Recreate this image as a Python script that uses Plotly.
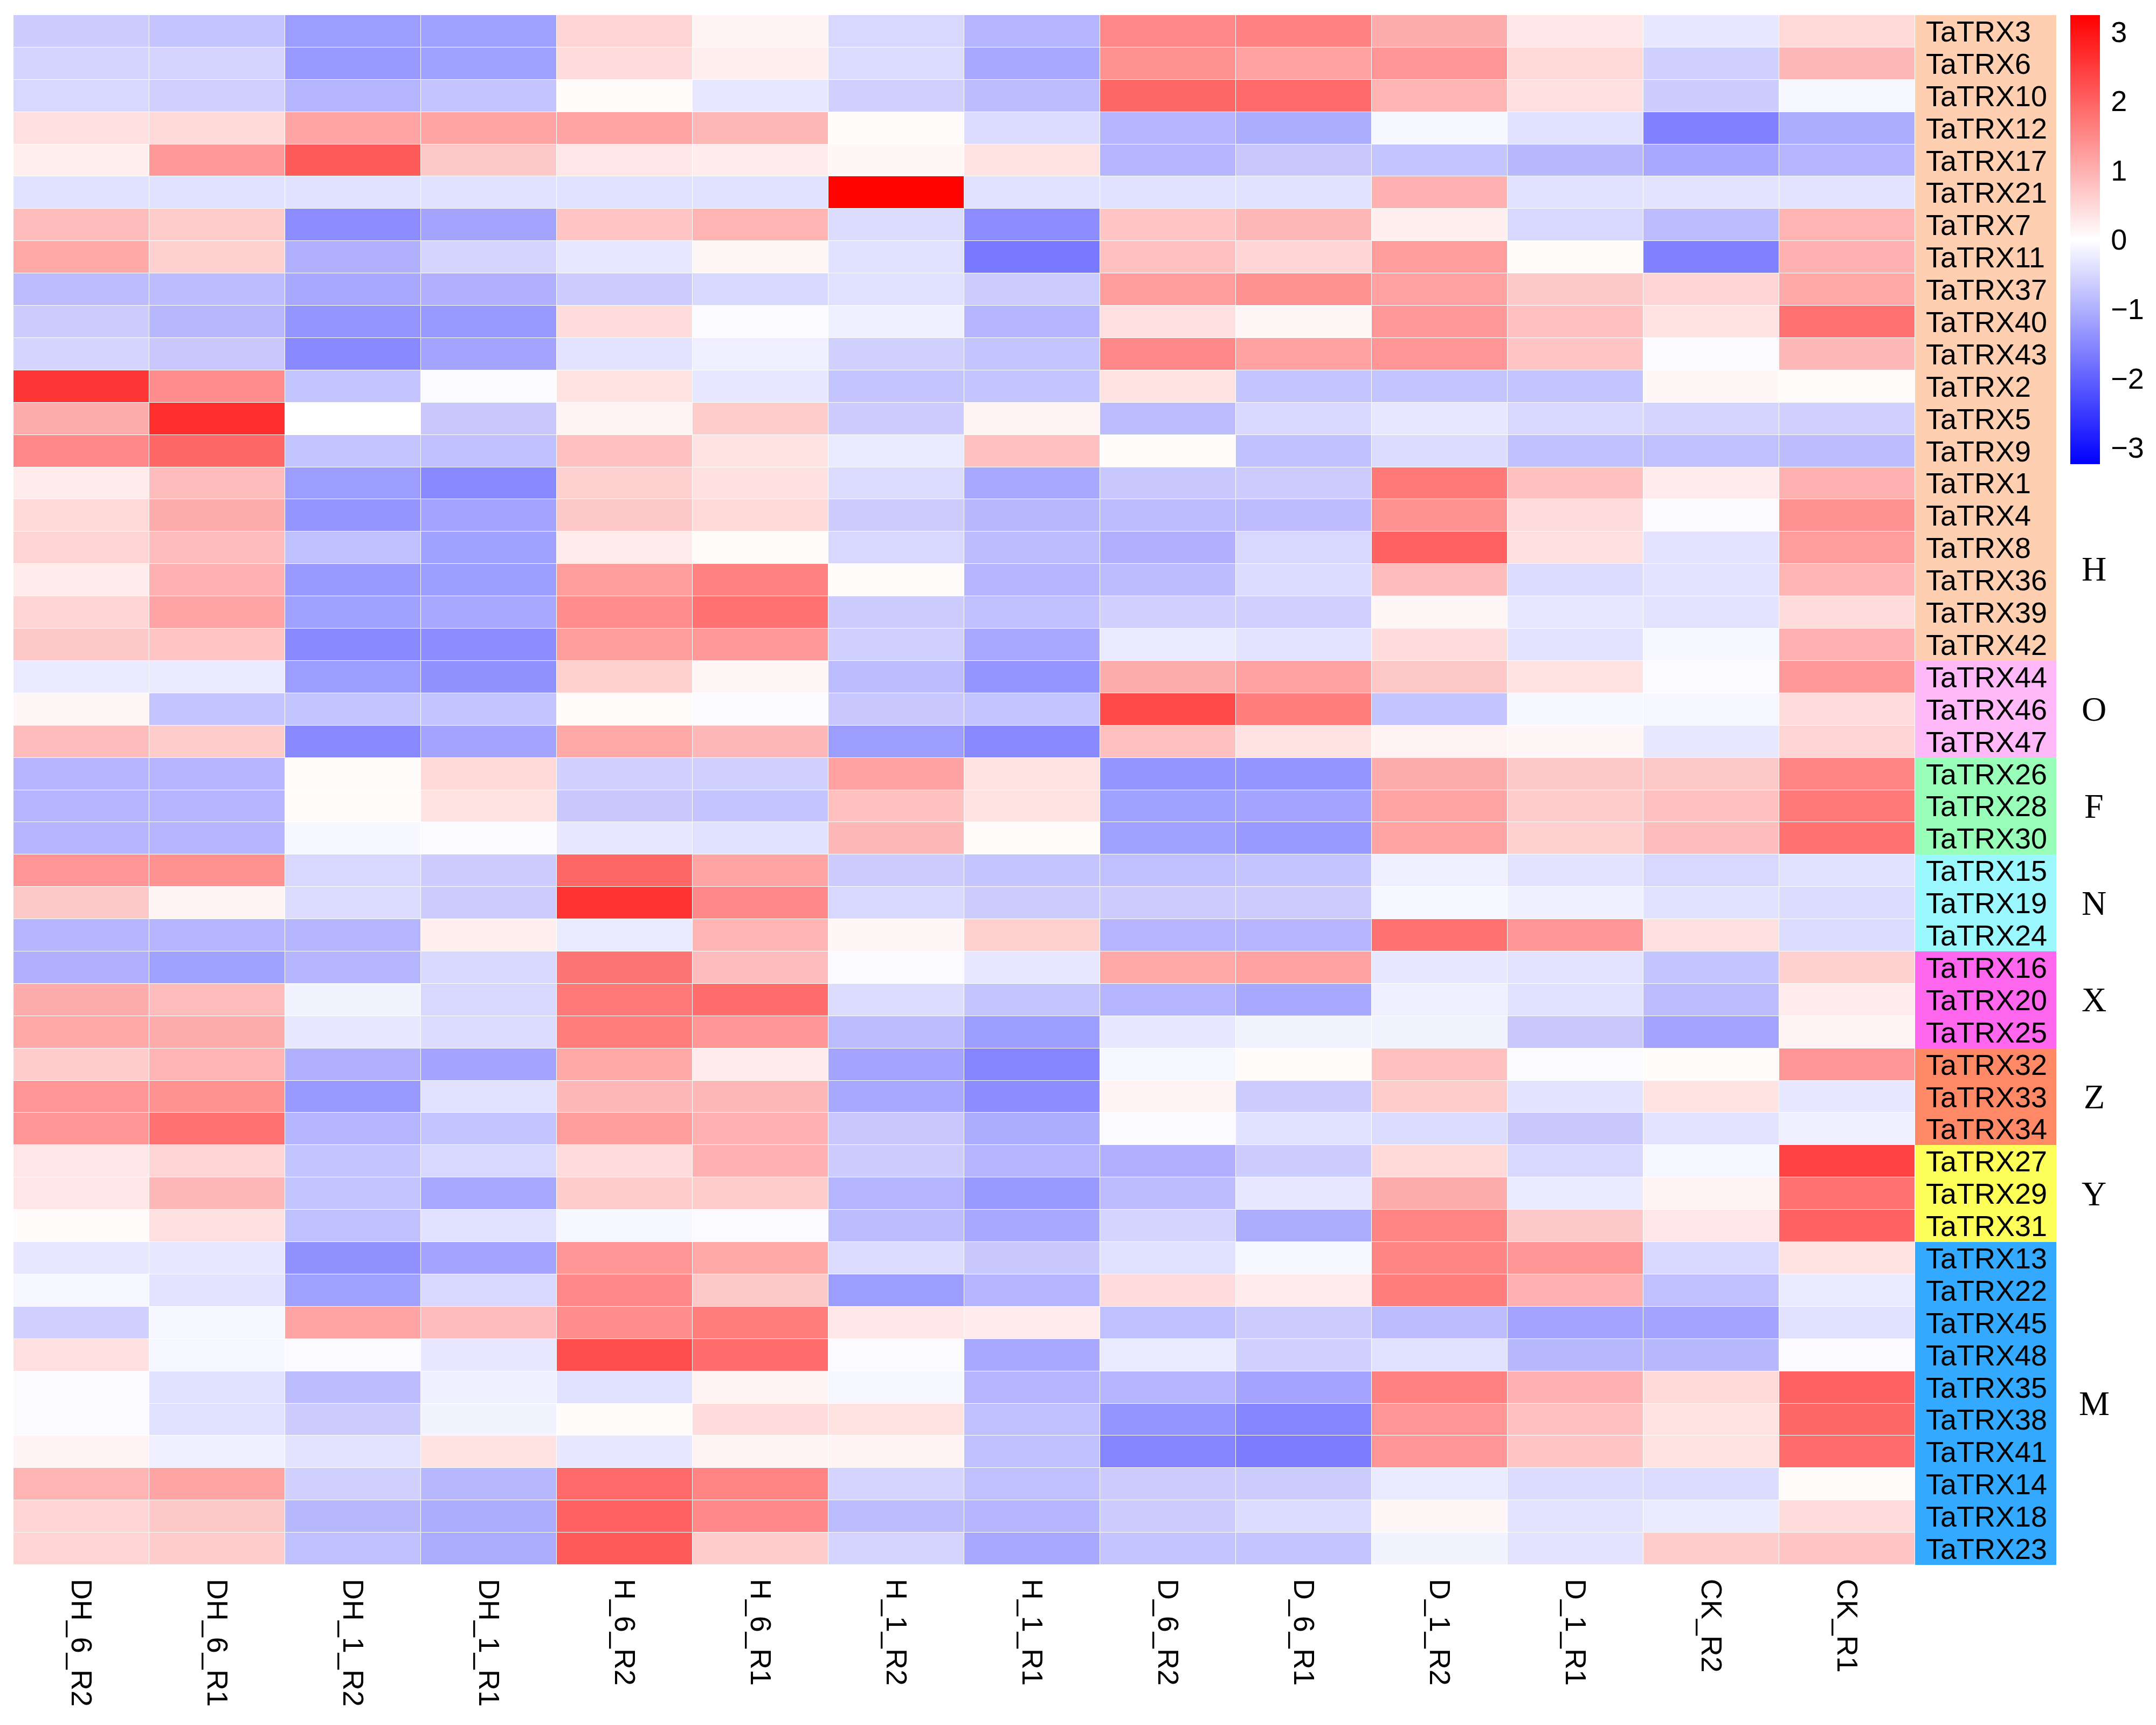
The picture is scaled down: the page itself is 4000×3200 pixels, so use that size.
import plotly.graph_objects as go

# samples (columns) and genes (rows, top to bottom)
samples = ["DH_6_R2", "DH_6_R1", "DH_1_R2", "DH_1_R1", "H_6_R2", "H_6_R1", "H_1_R2",
           "H_1_R1", "D_6_R2", "D_6_R1", "D_1_R2", "D_1_R1", "CK_R2", "CK_R1"]

genes = ["TaTRX3", "TaTRX6", "TaTRX10", "TaTRX12", "TaTRX17", "TaTRX21", "TaTRX7", "TaTRX11",
         "TaTRX37", "TaTRX40", "TaTRX43", "TaTRX2", "TaTRX5", "TaTRX9", "TaTRX1", "TaTRX4",
         "TaTRX8", "TaTRX36", "TaTRX39", "TaTRX42", "TaTRX44", "TaTRX46", "TaTRX47",
         "TaTRX26", "TaTRX28", "TaTRX30", "TaTRX15", "TaTRX19", "TaTRX24", "TaTRX16",
         "TaTRX20", "TaTRX25", "TaTRX32", "TaTRX33", "TaTRX34", "TaTRX27", "TaTRX29",
         "TaTRX31", "TaTRX13", "TaTRX22", "TaTRX45", "TaTRX48", "TaTRX35", "TaTRX38",
         "TaTRX41", "TaTRX14", "TaTRX18", "TaTRX23"]

# scaled expression (z-score), one list per gene
values = [
    [-0.65, -0.75, -1.25, -1.2, 0.55, 0.15, -0.5, -0.95, 1.5, 1.6, 1.05, 0.3, -0.3, 0.5],
    [-0.55, -0.55, -1.3, -1.2, 0.45, 0.2, -0.45, -1.1, 1.4, 1.2, 1.35, 0.5, -0.6, 0.9],
    [-0.5, -0.6, -0.95, -0.75, 0.05, -0.3, -0.6, -0.85, 1.95, 1.9, 0.95, 0.4, -0.65, -0.1],
    [0.4, 0.5, 1.15, 1.15, 1.15, 0.9, 0.05, -0.45, -0.95, -1.05, -0.1, -0.4, -1.6, -1.05],
    [0.2, 1.3, 2.1, 0.7, 0.3, 0.25, 0.1, 0.35, -0.95, -0.7, -0.75, -0.9, -1.1, -0.95],
    [-0.4, -0.4, -0.4, -0.4, -0.4, -0.4, 3.2, -0.4, -0.4, -0.4, 1.0, -0.4, -0.35, -0.35],
    [0.85, 0.65, -1.45, -1.15, 0.75, 0.95, -0.45, -1.45, 0.75, 0.9, 0.2, -0.5, -0.85, 0.95],
    [1.1, 0.6, -1.0, -0.55, -0.3, 0.1, -0.4, -1.7, 0.8, 0.55, 1.25, 0.05, -1.6, 1.0],
    [-0.85, -0.85, -1.1, -1.0, -0.65, -0.5, -0.4, -0.65, 1.25, 1.4, 1.2, 0.7, 0.55, 1.1],
    [-0.65, -0.9, -1.35, -1.3, 0.45, -0.05, -0.2, -0.95, 0.4, 0.1, 1.3, 0.8, 0.35, 1.8],
    [-0.55, -0.7, -1.5, -1.15, -0.35, -0.2, -0.6, -0.75, 1.5, 1.2, 1.35, 0.75, -0.05, 0.9],
    [2.55, 1.45, -0.75, -0.05, 0.35, -0.3, -0.75, -0.75, 0.35, -0.75, -0.75, -0.75, 0.1, 0.05],
    [1.05, 2.65, 0.0, -0.7, 0.15, 0.65, -0.65, 0.15, -0.85, -0.5, -0.3, -0.5, -0.55, -0.6],
    [1.5, 1.95, -0.75, -0.8, 0.8, 0.35, -0.25, 0.8, 0.05, -0.8, -0.45, -0.8, -0.8, -0.85],
    [0.25, 0.85, -1.25, -1.5, 0.6, 0.4, -0.45, -1.1, -0.7, -0.65, 1.7, 0.8, 0.25, 1.0],
    [0.5, 1.05, -1.35, -1.15, 0.7, 0.5, -0.65, -0.9, -0.85, -0.85, 1.4, 0.45, -0.05, 1.4],
    [0.55, 0.85, -0.8, -1.2, 0.25, 0.05, -0.5, -0.85, -1.0, -0.5, 2.0, 0.4, -0.35, 1.25],
    [0.25, 1.0, -1.3, -1.25, 1.25, 1.6, 0.05, -0.95, -0.85, -0.45, 0.85, -0.45, -0.35, 0.95],
    [0.55, 1.15, -1.2, -1.1, 1.45, 1.8, -0.65, -0.8, -0.6, -0.6, 0.1, -0.3, -0.35, 0.45],
    [0.7, 0.75, -1.5, -1.45, 1.25, 1.3, -0.6, -1.1, -0.25, -0.35, 0.45, -0.35, -0.1, 1.0],
    [-0.25, -0.25, -1.25, -1.4, 0.6, 0.1, -0.85, -1.35, 1.05, 1.2, 0.7, 0.35, -0.05, 1.3],
    [0.1, -0.75, -0.75, -0.75, 0.05, -0.05, -0.7, -0.75, 2.3, 1.65, -0.75, -0.1, -0.1, 0.45],
    [0.85, 0.65, -1.5, -1.15, 1.1, 0.9, -1.25, -1.5, 0.8, 0.35, 0.15, 0.1, -0.3, 0.55],
    [-0.95, -0.95, 0.05, 0.5, -0.6, -0.6, 1.2, 0.35, -1.35, -1.35, 1.05, 0.7, 0.7, 1.55],
    [-0.95, -0.95, 0.05, 0.35, -0.7, -0.75, 0.8, 0.35, -1.2, -1.15, 1.15, 0.65, 0.8, 1.7],
    [-0.95, -0.95, -0.1, -0.05, -0.3, -0.4, 0.9, 0.05, -1.2, -1.3, 1.15, 0.6, 0.85, 1.8],
    [1.35, 1.4, -0.5, -0.65, 1.95, 1.15, -0.65, -0.75, -0.8, -0.75, -0.2, -0.35, -0.5, -0.4],
    [0.7, 0.15, -0.45, -0.65, 2.6, 1.5, -0.5, -0.65, -0.65, -0.65, -0.1, -0.2, -0.4, -0.45],
    [-0.95, -0.95, -0.95, 0.2, -0.25, 0.95, 0.1, 0.6, -0.95, -0.95, 1.8, 1.35, 0.4, -0.45],
    [-1.0, -1.2, -0.95, -0.5, 1.75, 0.85, -0.05, -0.3, 1.1, 1.2, -0.3, -0.35, -0.75, 0.6],
    [1.05, 0.85, -0.15, -0.5, 1.7, 1.85, -0.45, -0.75, -0.95, -1.1, -0.2, -0.4, -0.85, 0.25],
    [1.1, 1.05, -0.3, -0.45, 1.65, 1.35, -0.85, -1.25, -0.3, -0.15, -0.15, -0.7, -1.15, 0.15],
    [0.65, 0.95, -1.0, -1.15, 1.1, 0.25, -1.15, -1.55, -0.1, 0.05, 0.8, -0.05, 0.05, 1.35],
    [1.35, 1.4, -1.3, -0.4, 0.9, 0.9, -1.1, -1.45, 0.15, -0.65, 0.65, -0.35, 0.35, -0.3],
    [1.35, 1.8, -0.95, -0.75, 1.25, 1.0, -0.7, -1.05, -0.05, -0.4, -0.45, -0.7, -0.35, -0.2],
    [0.3, 0.55, -0.75, -0.5, 0.45, 1.0, -0.65, -0.95, -1.0, -0.65, 0.5, -0.5, -0.1, 2.4],
    [0.3, 0.9, -0.75, -1.1, 0.65, 0.65, -0.95, -1.3, -0.85, -0.3, 1.05, -0.25, 0.15, 1.8],
    [0.05, 0.4, -0.8, -0.4, -0.1, -0.05, -0.85, -1.1, -0.55, -1.05, 1.55, 0.7, 0.3, 2.0],
    [-0.3, -0.3, -1.4, -1.15, 1.35, 1.1, -0.45, -0.7, -0.4, -0.1, 1.55, 1.35, -0.5, 0.35],
    [-0.1, -0.35, -1.2, -0.5, 1.5, 0.7, -1.25, -0.95, 0.45, 0.25, 1.65, 1.0, -0.8, -0.25],
    [-0.6, -0.1, 1.15, 0.85, 1.45, 1.65, 0.3, 0.25, -0.8, -0.65, -0.85, -1.15, -1.15, -0.4],
    [0.4, -0.1, -0.05, -0.3, 2.25, 1.85, -0.05, -1.1, -0.25, -0.6, -0.4, -0.9, -0.9, -0.05],
    [-0.05, -0.4, -0.85, -0.2, -0.4, 0.15, -0.1, -0.95, -0.95, -1.15, 1.6, 1.0, 0.5, 2.0],
    [-0.05, -0.4, -0.65, -0.15, 0.05, 0.45, 0.35, -0.8, -1.35, -1.55, 1.35, 0.8, 0.35, 1.95],
    [0.15, -0.2, -0.35, 0.35, -0.3, 0.15, 0.15, -0.8, -1.55, -1.65, 1.35, 0.75, 0.35, 1.85],
    [0.95, 1.15, -0.6, -0.9, 1.9, 1.55, -0.55, -0.8, -0.65, -0.65, -0.25, -0.45, -0.45, 0.05],
    [0.55, 0.7, -0.9, -1.05, 2.0, 1.5, -0.85, -0.95, -0.65, -0.45, 0.1, -0.35, -0.25, 0.45],
    [0.55, 0.65, -0.8, -1.05, 2.1, 0.65, -0.55, -1.1, -0.75, -0.75, -0.15, -0.35, 0.65, 0.75],
]

# gene groups (top to bottom) and their annotation colours
group_names = ["H", "O", "F", "N", "X", "Z", "Y", "M"]
group_sizes = [20, 3, 3, 3, 3, 3, 3, 10]
group_colors = ["#FFCFB2", "#FFB8F8", "#99FFB8", "#9CF8FF", "#FF66EE", "#FF8866", "#FFFF5A", "#33AAFF"]

rows = list(range(len(genes)))
group_idx = []
for k, n in enumerate(group_sizes):
    group_idx += [k] * n

fig = go.Figure()

fig.add_trace(go.Heatmap(
    z=values, x=list(range(len(samples))), y=rows,
    colorscale=[[0, "rgb(0,0,255)"], [0.5, "rgb(255,255,255)"], [1, "rgb(255,0,0)"]],
    zmin=-3.24, zmax=3.24, xgap=1, ygap=1,
    colorbar=dict(
        x=3841 / 4000, xanchor="left", xpad=0, ypad=0,
        y=1 - 28 / 3200, yanchor="top",
        lenmode="pixels", len=833, thickness=55, outlinewidth=0,
        tickvals=[-3, -2, -1, 0, 1, 2, 3],
        ticks="outside", ticklen=10, tickcolor="rgba(0,0,0,0)",
        tickfont=dict(family="Liberation Sans, Arial", size=54, color="black"),
    ),
    hoverongaps=False,
))

# discrete annotation column
dscale = []
for k, c in enumerate(group_colors):
    dscale += [[k / len(group_colors), c], [(k + 1) / len(group_colors), c]]
fig.add_trace(go.Heatmap(
    z=[[g] for g in group_idx], x=[0], y=rows,
    xaxis="x2", yaxis="y",
    colorscale=dscale, zmin=-0.5, zmax=len(group_colors) - 0.5,
    showscale=False,
))

annotations = []
for i, g in enumerate(genes):
    annotations.append(dict(
        x=-0.43, y=i, xref="x2", yref="y", text=g, showarrow=False,
        xanchor="left", yanchor="middle",
        font=dict(family="Liberation Sans, Arial", size=54, color="black"),
    ))

# group letters beside the annotation column
label_shift = {"H": 7.15}
start = 0
for name, n in zip(group_names, group_sizes):
    yc = start + (n - 1) / 2 + label_shift.get(name, 0)
    annotations.append(dict(
        x=3885 / 4000, y=yc, xref="paper", yref="y", text=name, showarrow=False,
        xanchor="center", yanchor="middle",
        font=dict(family="Liberation Serif, Times New Roman", size=64, color="black"),
    ))
    start += n

fig.update_layout(
    width=4000, height=3200,
    margin=dict(l=0, r=0, t=0, b=0),
    paper_bgcolor="white", plot_bgcolor="white",
    annotations=annotations,
    xaxis=dict(
        domain=[25 / 4000, 3553 / 4000], range=[-0.5, len(samples) - 0.5],
        tickvals=list(range(len(samples))), ticktext=samples, tickangle=90,
        ticks="outside", ticklen=14, tickcolor="rgba(0,0,0,0)",
        tickfont=dict(family="Liberation Sans, Arial", size=54, color="black"),
        showgrid=False, zeroline=False, showline=False,
    ),
    xaxis2=dict(
        domain=[3553 / 4000, 3815 / 4000], range=[-0.5, 0.5], anchor="y",
        showticklabels=False, showgrid=False, zeroline=False, ticks="",
    ),
    yaxis=dict(
        domain=[1 - 2903 / 3200, 1 - 28 / 3200], range=[len(genes) - 0.5, -0.5],
        showticklabels=False, showgrid=False, zeroline=False, ticks="",
    ),
)

# drop the default page margin so the 4000x3200 figure fills the window
fig.write_html(
    "out.html",
    config={"displayModeBar": False},
    post_script="document.body.style.margin='0';document.body.style.overflow='hidden';",
)
